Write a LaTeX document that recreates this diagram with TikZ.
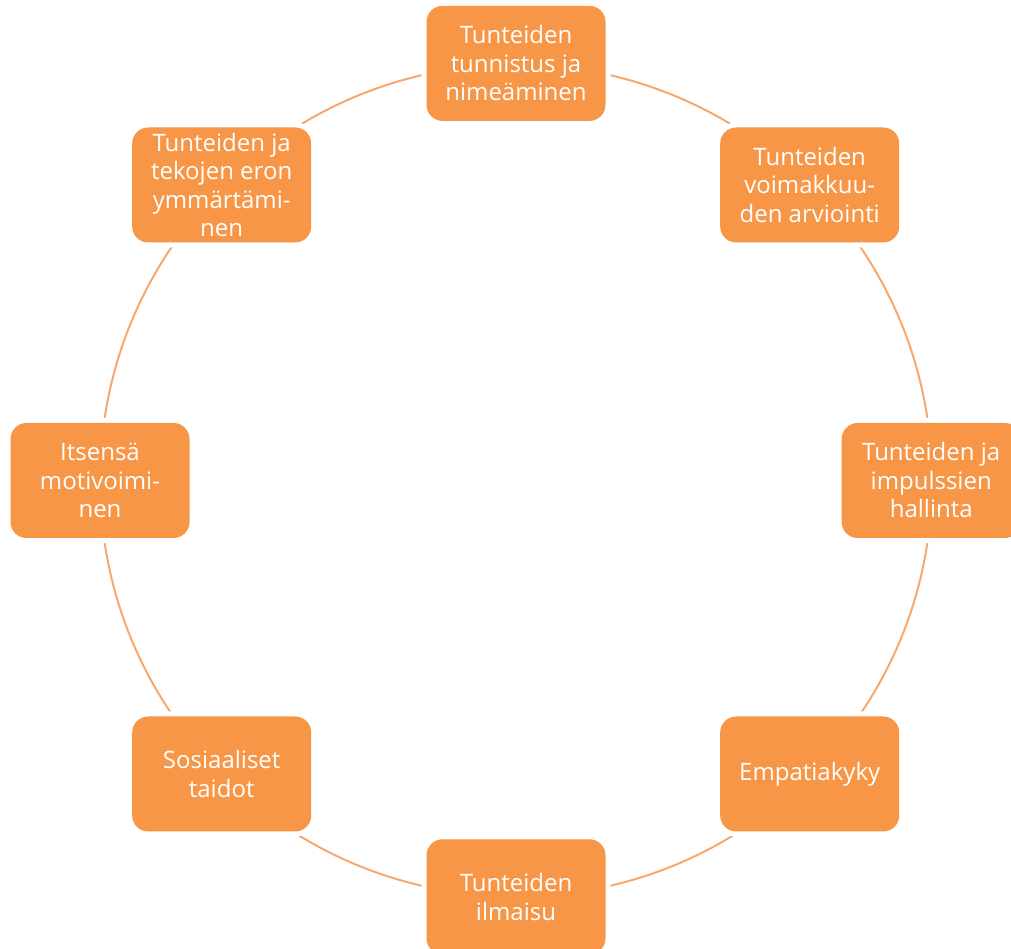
\documentclass[tikz,border=0pt]{standalone}
\usepackage{fontspec}
\setmainfont{Open Sans}
\definecolor{boxor}{HTML}{F79646}
\definecolor{ringor}{HTML}{F7A86E}
\tikzset{
  stepbox/.style={
    preaction={draw=white, line width=10pt},
    fill=boxor, rounded corners=16pt,
    minimum width=179pt, minimum height=115pt, inner sep=0pt,
    text=white, align=center,
    font=\fontsize{24}{28.5}\selectfont},
  ring/.style={draw=ringor, line width=2pt}
}
\begin{document}
\begin{tikzpicture}[x=1pt,y=1pt]
\useasboundingbox (0,0) rectangle (1011,949);
\coordinate (c) at (516,468.5);
\draw[ring] (c) circle (416);
\node[stepbox] (n1) at (516,885.6) {Tunteiden\\tunnistus ja\\nimeäminen};
\node[stepbox] (n2) at (809.7,764) {Tunteiden\\voimakkuu-\\den arviointi};
\node[stepbox] (n3) at (931.2,468.5) {Tunteiden ja\\impulssien\\hallinta};
\node[stepbox] (n4) at (809.7,175) {Empatiakyky};
\node[stepbox] (n5) at (516,52.2) {Tunteiden\\ilmaisu};
\node[stepbox] (n6) at (221.7,175) {Sosiaaliset\\taidot};
\node[stepbox] (n7) at (100,468.5) {Itsensä\\motivoimi-\\nen};
\node[stepbox] (n8) at (221.7,764) {Tunteiden ja\\tekojen eron\\ymmärtämi-\\nen};
\end{tikzpicture}
\end{document}
